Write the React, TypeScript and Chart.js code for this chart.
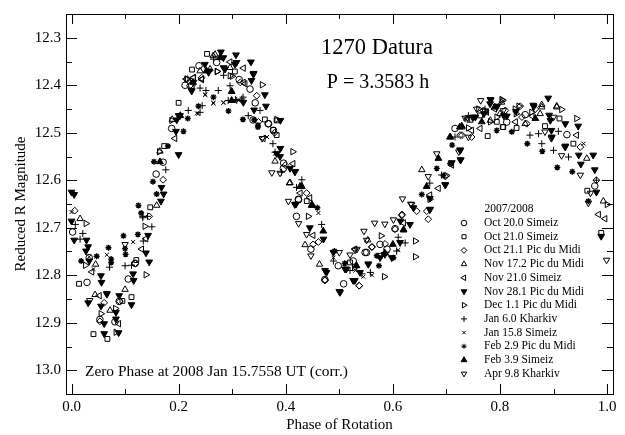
import React, { useEffect, useRef } from "react";
import { Chart, registerables } from "chart.js";
import { drawPoint } from "chart.js/helpers";

Chart.register(...registerables);

const oct20: number[][] = [[0.002,12.709],[0.029,12.815],[0.106,12.808],[0.081,12.898],[0.053,12.893],[0.119,12.775],[0.033,12.763],[0.089,12.855],[0.158,12.587],[0.212,12.40],[0.238,12.359],[0.187,12.491],[0.171,12.562],[0.271,12.352],[0.313,12.388],[0.343,12.437],[0.368,12.481],[0.377,12.495],[0.396,12.564],[0.42,12.676],[0.424,12.641],[0.447,12.745],[0.473,12.809],[0.508,12.818],[0.498,12.78],[0.526,12.77],[0.551,12.752],[0.576,12.735],[0.604,12.702],[0.589,12.745],[0.716,12.491],[0.847,12.462],[0.925,12.504],[0.977,12.612],[0.339,12.473],[0.367,12.481],[0.3955,12.575],[0.4235,12.64],[0.5482,12.752],[0.2245,12.4],[0.8126,12.4775],[0.3333,12.408]];
const oct21a: number[][] = [[0.014,12.818],[0.041,12.924],[0.067,12.934],[0.095,12.854],[0.112,12.846],[0.121,12.768],[0.147,12.657],[0.173,12.528],[0.2,12.437],[0.225,12.367],[0.253,12.334],[0.305,12.371],[0.361,12.472],[0.383,12.474],[0.383,12.505],[0.777,12.507],[0.806,12.488],[0.831,12.49],[0.884,12.486],[0.911,12.47],[0.937,12.523],[0.963,12.622],[0.772,12.455],[0.794,12.477],[0.989,12.711],[0.52,12.773],[0.576,12.759],[0.4392,12.644],[0.3765,12.494],[0.8052,12.488],[0.7628,12.4635]];
const oct21b: number[][] = [[0.006,12.664],[0.145,12.676],[0.171,12.599],[0.061,12.858],[0.09,12.855],[0.053,12.897],[0.119,12.775],[0.315,12.394],[0.349,12.477],[0.221,12.401],[0.243,12.384],[0.379,12.5],[0.399,12.568],[0.439,12.627],[0.451,12.735],[0.473,12.811],[0.537,12.822],[0.461,12.73],[0.561,12.74],[0.666,12.682],[0.617,12.672],[0.698,12.592],[0.729,12.505],[0.747,12.509],[0.841,12.467],[0.866,12.45],[0.95,12.53],[0.98,12.6],[0.769,12.453],[0.81,12.453],[0.5606,12.741],[0.5854,12.734],[0.6041,12.703],[0.6166,12.674],[0.6446,12.665],[0.6633,12.665],[0.8378,12.444],[0.7255,12.505],[0.4734,12.81],[0.5373,12.822],[0.85,12.481],[0.3458,12.422]];
const nov17: number[][] = [[0.016,12.681],[0.044,12.841],[0.045,12.777],[0.1,12.83],[0.072,12.874],[0.159,12.653],[0.165,12.539],[0.188,12.472],[0.24,12.37],[0.268,12.335],[0.296,12.363],[0.38,12.56],[0.407,12.606],[0.436,12.736],[0.463,12.777],[0.532,12.78],[0.654,12.578],[0.782,12.474],[0.878,12.441],[0.906,12.444],[0.962,12.554],[0.993,12.644],[0.729,12.488],[0.847,12.481],[0.803,12.436],[0.2645,12.338],[0.5531,12.726],[0.878,12.446],[0.906,12.446],[0.408,12.605],[0.62,12.705],[0.8,12.46],[0.7441,12.4739],[0.875,12.46],[0.2587,12.366]];
const nov21: number[][] = [[0.038,12.793],[0.052,12.843],[0.088,12.902],[0.139,12.723],[0.131,12.745],[0.193,12.512],[0.214,12.387],[0.228,12.384],[0.243,12.388],[0.296,12.351],[0.321,12.364],[0.324,12.397],[0.358,12.512],[0.427,12.627],[0.445,12.637],[0.451,12.716],[0.669,12.631],[0.685,12.617],[0.71,12.568],[0.747,12.495],[0.763,12.491],[0.829,12.477],[0.943,12.505],[0.984,12.672],[0.996,12.681],[0.529,12.745],[0.2275,12.384],[0.4136,12.565],[0.62,12.69],[0.74,12.47],[0.79,12.45],[0.86,12.465],[0.7752,12.4566],[0.2431,12.387],[0.3209,12.394]];
const nov28: number[][] = [[0,12.625],[0.005,12.63],[0.168,12.615],[0.172,12.629],[0.167,12.644],[0.2,12.464],[0.195,12.497],[0.2,12.546],[0.224,12.411],[0.249,12.356],[0.256,12.373],[0.279,12.33],[0.284,12.363],[0.307,12.336],[0.308,12.352],[0.335,12.351],[0.34,12.375],[0.336,12.39],[0.361,12.42],[0.363,12.444],[0.39,12.474],[0.39,12.533],[0.417,12.651],[0.417,12.582],[0.005,12.726],[0,12.686],[0.028,12.726],[0.031,12.74],[0.027,12.749],[0.033,12.77],[0.055,12.801],[0.056,12.815],[0.031,12.858],[0.055,12.865],[0.066,12.84],[0.089,12.843],[0.112,12.862],[0.115,12.797],[0.116,12.811],[0.061,12.902],[0.083,12.878],[0.083,12.892],[0.061,12.923],[0.088,12.921],[0.139,12.753],[0.145,12.772],[0.143,12.716],[0.445,12.7],[0.5,12.834],[0.529,12.811],[0.513,12.787],[0.554,12.777],[0.585,12.756],[0.614,12.686],[0.476,12.794],[0.669,12.662],[0.669,12.638],[0.698,12.61],[0.71,12.563],[0.726,12.557],[0.726,12.537],[0.782,12.43],[0.794,12.446],[0.754,12.467],[0.807,12.464],[0.863,12.445],[0.89,12.427],[0.894,12.474],[0.896,12.495],[0.922,12.481],[0.946,12.486],[0.922,12.528],[0.947,12.547],[0.951,12.566],[0.974,12.547],[0.977,12.578],[0.98,12.625],[0.989,12.718],[0.2835,12.342],[0.2556,12.37],[0.2275,12.394],[0.2244,12.412],[0.2026,12.464],[0.1964,12.473],[0.3053,12.356],[0.3395,12.377],[0.2866,12.366],[0.3408,12.452],[0.3208,12.436],[0.3833,12.544],[0.3894,12.55],[0.408,12.575],[0.4174,12.582],[0.4192,12.65],[0.4889,12.752],[0.4734,12.79],[0.5107,12.787],[0.5259,12.811],[0.5541,12.776],[0.5761,12.763],[0.5979,12.763],[0.6134,12.731],[0.632,12.693],[0.6384,12.658],[0.6695,12.661],[0.5014,12.836],[0.4704,12.724],[0.5387,12.794],[0.8127,12.465],[0.8622,12.442],[0.8917,12.463],[0.8967,12.509],[0.9216,12.53],[0.7268,12.557],[0.7255,12.536],[0.7502,12.467],[0.6974,12.609],[0.7815,12.439],[0.7942,12.444],[0.83,12.455],[0.77,12.46]];
const dec1: number[][] = [[0.027,12.691],[0.026,12.779],[0.055,12.881],[0.082,12.87],[0.083,12.92],[0.139,12.799],[0.137,12.697],[0.164,12.54],[0.187,12.474],[0.216,12.387],[0.272,12.371],[0.3,12.381],[0.356,12.399],[0.383,12.472],[0.413,12.54],[0.442,12.676],[0.584,12.803],[0.642,12.761],[0.642,12.728],[0.578,12.717],[0.528,12.784],[0.669,12.64],[0.805,12.432],[0.835,12.444],[0.859,12.457],[0.915,12.451],[0.943,12.47],[1.0,12.651],[0.782,12.477],[0.741,12.49],[0.2151,12.387],[0.2717,12.371],[0.8033,12.43],[0.7,12.59],[0.76,12.45],[0.83,12.46],[0.794,12.467],[0.8281,12.45],[0.296,12.38]];
const jan6: number[][] = [[0.142,12.676],[0.133,12.676],[0.176,12.578],[0.218,12.453],[0.24,12.406],[0.251,12.411],[0.274,12.411],[0.24,12.457],[0.244,12.443],[0.284,12.379],[0.296,12.401],[0.306,12.43],[0.318,12.429],[0.33,12.464],[0.352,12.453],[0.376,12.523],[0.392,12.583],[0.43,12.599],[0.42,12.615],[0.38,12.541],[0.265,12.345],[0.007,12.693],[0.021,12.712],[0.071,12.783],[0.1,12.78],[0.112,12.779],[0.134,12.728],[0.133,12.679],[0.15,12.698],[0.016,12.724],[0.467,12.693],[0.489,12.77],[0.542,12.797],[0.558,12.794],[0.623,12.732],[0.607,12.749],[0.669,12.606],[0.691,12.589],[0.716,12.509],[0.741,12.464],[0.772,12.45],[0.856,12.505],[0.872,12.502],[0.878,12.523],[0.909,12.497],[0.928,12.551],[0.9,12.537],[0.98,12.6],[0.2925,12.432],[0.3085,12.432],[0.3203,12.425],[0.52,12.79],[0.61,12.72]];
const jan15: number[][] = [[0,12.667],[0.265,12.438],[0.25,12.42],[0.284,12.436],[0.234,12.459],[0.38,12.544],[0.312,12.432],[0.365,12.509],[0.066,12.757],[0.115,12.73],[0.041,12.787],[0.047,12.76],[0.033,12.761],[0.489,12.763],[0.513,12.773],[0.545,12.803],[0.561,12.8],[0.61,12.747],[0.461,12.669],[0.956,12.523],[0.735,12.47],[0.2493,12.42],[0.2647,12.437],[0.2362,12.46],[0.2835,12.437],[0.53,12.79],[0.59,12.755]];
const feb2: number[][] = [[0.125,12.653],[0.13,12.669],[0.152,12.603],[0.159,12.629],[0.154,12.561],[0.18,12.528],[0.209,12.497],[0.217,12.47],[0.237,12.444],[0.265,12.425],[0.293,12.454],[0.32,12.472],[0.341,12.473],[0.348,12.488],[0.018,12.77],[0.069,12.742],[0.074,12.766],[0.074,12.773],[0.097,12.717],[0.1,12.744],[0.101,12.756],[0.047,12.76],[0.124,12.714],[0.491,12.749],[0.574,12.78],[0.57,12.759],[0.601,12.763],[0.654,12.63],[0.682,12.575],[0.794,12.495],[0.822,12.498],[0.851,12.523],[0.879,12.539],[0.907,12.573],[0.935,12.582],[0.965,12.644],[0.459,12.658],[0.7107,12.526],[0.7068,12.565],[0.6942,12.59],[0.348,12.484],[0.51,12.775]];
const feb3: number[][] = [[0.299,12.413],[0.299,12.432],[0.252,12.37],[0.227,12.394],[0.203,12.464],[0.43,12.613],[0.449,12.651],[0.277,12.342],[0.165,12.561],[0.47,12.707],[0.532,12.78],[0.62,12.704],[0.6,12.735],[0.585,12.753],[0.685,12.554],[0.663,12.613],[0.707,12.509],[0.725,12.488],[0.766,12.477],[0.79,12.446],[0.866,12.47],[0.4267,12.613],[0.4485,12.653],[0.7287,12.486],[0.7068,12.509]];
const apr9: number[][] = [[0.374,12.584],[0.405,12.644],[0.356,12.512],[0.1,12.735],[0.066,12.838],[0.034,12.853],[0.424,12.691],[0.447,12.759],[0.439,12.714],[0.546,12.707],[0.551,12.726],[0.566,12.69],[0.585,12.692],[0.601,12.683],[0.533,12.745],[0.5,12.752],[0.999,12.768],[0.618,12.639],[0.635,12.651],[0.666,12.592],[0.682,12.544],[0.764,12.432],[0.783,12.431],[0.884,12.498],[0.915,12.548],[0.95,12.589],[0.969,12.627],[0.896,12.512],[0.723,12.54],[0.741,12.509],[0.965,12.648],[0.3894,12.585],[0.52,12.757],[0.5294,12.747],[0.7348,12.469],[0.6334,12.65],[0.7566,12.45],[0.90,12.467],[0.8063,12.453]];

const xTickValues = [0, 0.2, 0.4, 0.6, 0.8, 1.0];
const yTickValues = [12.3, 12.4, 12.5, 12.6, 12.7, 12.8, 12.9, 13.0];

const seasonLabel = "2007/2008";
const titleText = "1270 Datura";
const periodText = "P = 3.3583 h";
const zeroPhaseText = "Zero Phase at 2008 Jan 15.7558 UT (corr.)";
const FONT = '"Liberation Serif"';

const seriesDefs: { label: string; pts: number[][]; style: string; rot: number; fill: boolean; r: number }[] = [
  { label: "Oct 20.0 Simeiz", pts: oct20, style: "circle", rot: 0, fill: false, r: 3.3 },
  { label: "Oct 21.0 Simeiz", pts: oct21a, style: "rect", rot: 0, fill: false, r: 3.4 },
  { label: "Oct 21.1 Pic du Midi", pts: oct21b, style: "rectRot", rot: 0, fill: false, r: 3.4 },
  { label: "Nov 17.2 Pic du Midi", pts: nov17, style: "triangle", rot: 0, fill: false, r: 3.7 },
  { label: "Nov 21.0 Simeiz", pts: nov21, style: "triangle", rot: -90, fill: false, r: 3.7 },
  { label: "Nov 28.1 Pic du Midi", pts: nov28, style: "triangle", rot: 180, fill: true, r: 3.9 },
  { label: "Dec 1.1 Pic du Midi", pts: dec1, style: "triangle", rot: 90, fill: false, r: 3.7 },
  { label: "Jan 6.0 Kharkiv", pts: jan6, style: "cross", rot: 0, fill: false, r: 3.5 },
  { label: "Jan 15.8 Simeiz", pts: jan15, style: "crossRot", rot: 0, fill: false, r: 2.8 },
  { label: "Feb 2.9 Pic du Midi", pts: feb2, style: "star", rot: 0, fill: true, r: 3 },
  { label: "Feb 3.9 Simeiz", pts: feb3, style: "triangle", rot: 0, fill: true, r: 3.9 },
  { label: "Apr 9.8 Kharkiv", pts: apr9, style: "triangle", rot: 180, fill: false, r: 3.7 },
];

const framePlugin = {
  id: "frame",
  afterDraw(chart: any) {
    const { ctx, chartArea: a, scales } = chart;
    const x = scales.x;
    const y = scales.y;
    ctx.save();
    ctx.strokeStyle = "#000";
    ctx.lineWidth = 1;
    ctx.strokeRect(a.left + 0.5, a.top + 0.5, a.right - a.left, a.bottom - a.top);
    ctx.beginPath();
    for (let i = 0; i <= 10; i++) {
      const px = Math.round(x.getPixelForValue(i / 10)) + 0.5;
      const len = i % 2 === 0 ? 10 : 5;
      ctx.moveTo(px, a.top);
      ctx.lineTo(px, a.top + len);
      ctx.moveTo(px, a.bottom);
      ctx.lineTo(px, a.bottom - len);
    }
    for (let i = 0; i <= 15; i++) {
      const py = Math.round(y.getPixelForValue(12.3 + i * 0.05)) + 0.5;
      const len = i % 2 === 0 ? 11 : 6;
      ctx.moveTo(a.left, py);
      ctx.lineTo(a.left + len, py);
      ctx.moveTo(a.right, py);
      ctx.lineTo(a.right - len, py);
    }
    ctx.stroke();

    ctx.fillStyle = "#000";
    ctx.textBaseline = "middle";
    ctx.textAlign = "center";
    ctx.font = `22.5px ${FONT}`;
    ctx.fillText(titleText, 377, 48);
    ctx.font = `20px ${FONT}`;
    ctx.fillText(periodText, 378, 83);
    ctx.textAlign = "left";
    ctx.font = `15.4px ${FONT}`;
    ctx.fillText(zeroPhaseText, 85, 372);
    ctx.textAlign = "center";
    ctx.font = `11.5px ${FONT}`;
    ctx.fillText(seasonLabel, 509, 209);
    ctx.textAlign = "left";
    seriesDefs.forEach((s, i) => {
      const ly = 223 + i * 13.7;
      ctx.fillStyle = "#000";
      ctx.fillText(s.label, 484, ly);
      ctx.strokeStyle = "#000";
      ctx.fillStyle = s.fill ? "#000" : "rgba(0,0,0,0)";
      ctx.lineWidth = 1;
      drawPoint(ctx, { pointStyle: s.style, rotation: s.rot, radius: s.r * 0.85, borderWidth: 1 } as any, 464, ly);
    });
    ctx.restore();
  },
};

export default function App() {
  const ref = useRef<HTMLCanvasElement>(null);
  useEffect(() => {
    const chart = new Chart(ref.current as HTMLCanvasElement, {
      type: "scatter",
      data: {
        datasets: seriesDefs.map((s) => ({
          label: s.label,
          data: s.pts.map((p) => ({ x: p[0], y: p[1] })),
          pointStyle: s.style as any,
          pointRotation: s.rot,
          pointRadius: s.r,
          pointBorderWidth: s.style === "star" ? 1.4 : 1,
          pointBorderColor: "#000",
          pointBackgroundColor: s.fill ? "#000" : "rgba(0,0,0,0)",
        })),
      },
      options: {
        animation: false,
        responsive: false,
        layout: { padding: { top: 11, right: 12, left: 0, bottom: 0 } },
        plugins: { legend: { display: false }, tooltip: { enabled: false }, title: { display: false } },
        scales: {
          x: {
            type: "linear",
            min: -0.0103,
            max: 1.011,
            afterFit: (s: any) => { s.height = 41; },
            afterBuildTicks: (s: any) => { s.ticks = xTickValues.map((value) => ({ value })); },
            grid: { display: false, drawTicks: false },
            border: { display: false },
            ticks: {
              padding: 4,
              color: "#000",
              maxRotation: 0,
              autoSkip: false,
              font: { family: "Liberation Serif", size: 15 },
              callback: (v: any) => Number(v).toFixed(1),
            },
            title: { display: true, text: "Phase of Rotation", color: "#000", padding: { top: 2, bottom: 1 }, font: { family: "Liberation Serif", size: 15 } },
          },
          y: {
            type: "linear",
            reverse: true,
            min: 12.25,
            max: 13.05,
            afterFit: (s: any) => { s.width = 66; },
            afterBuildTicks: (s: any) => { s.ticks = yTickValues.map((value) => ({ value })); },
            grid: { display: false, drawTicks: false },
            border: { display: false },
            ticks: {
              padding: 5,
              color: "#000",
              autoSkip: false,
              font: { family: "Liberation Serif", size: 15 },
              callback: (v: any) => Number(v).toFixed(1),
            },
            title: { display: true, text: "Reduced R Magnitude", color: "#000", padding: { top: 12, bottom: 0 }, font: { family: "Liberation Serif", size: 15 } },
          },
        },
      } as any,
      plugins: [framePlugin],
    });
    return () => chart.destroy();
  }, []);
  return (
    <canvas
      ref={ref}
      width={625}
      height={435}
      style={{ position: "fixed", left: 0, top: 0, width: 625, height: 435, background: "#fff" }}
    />
  );
}
